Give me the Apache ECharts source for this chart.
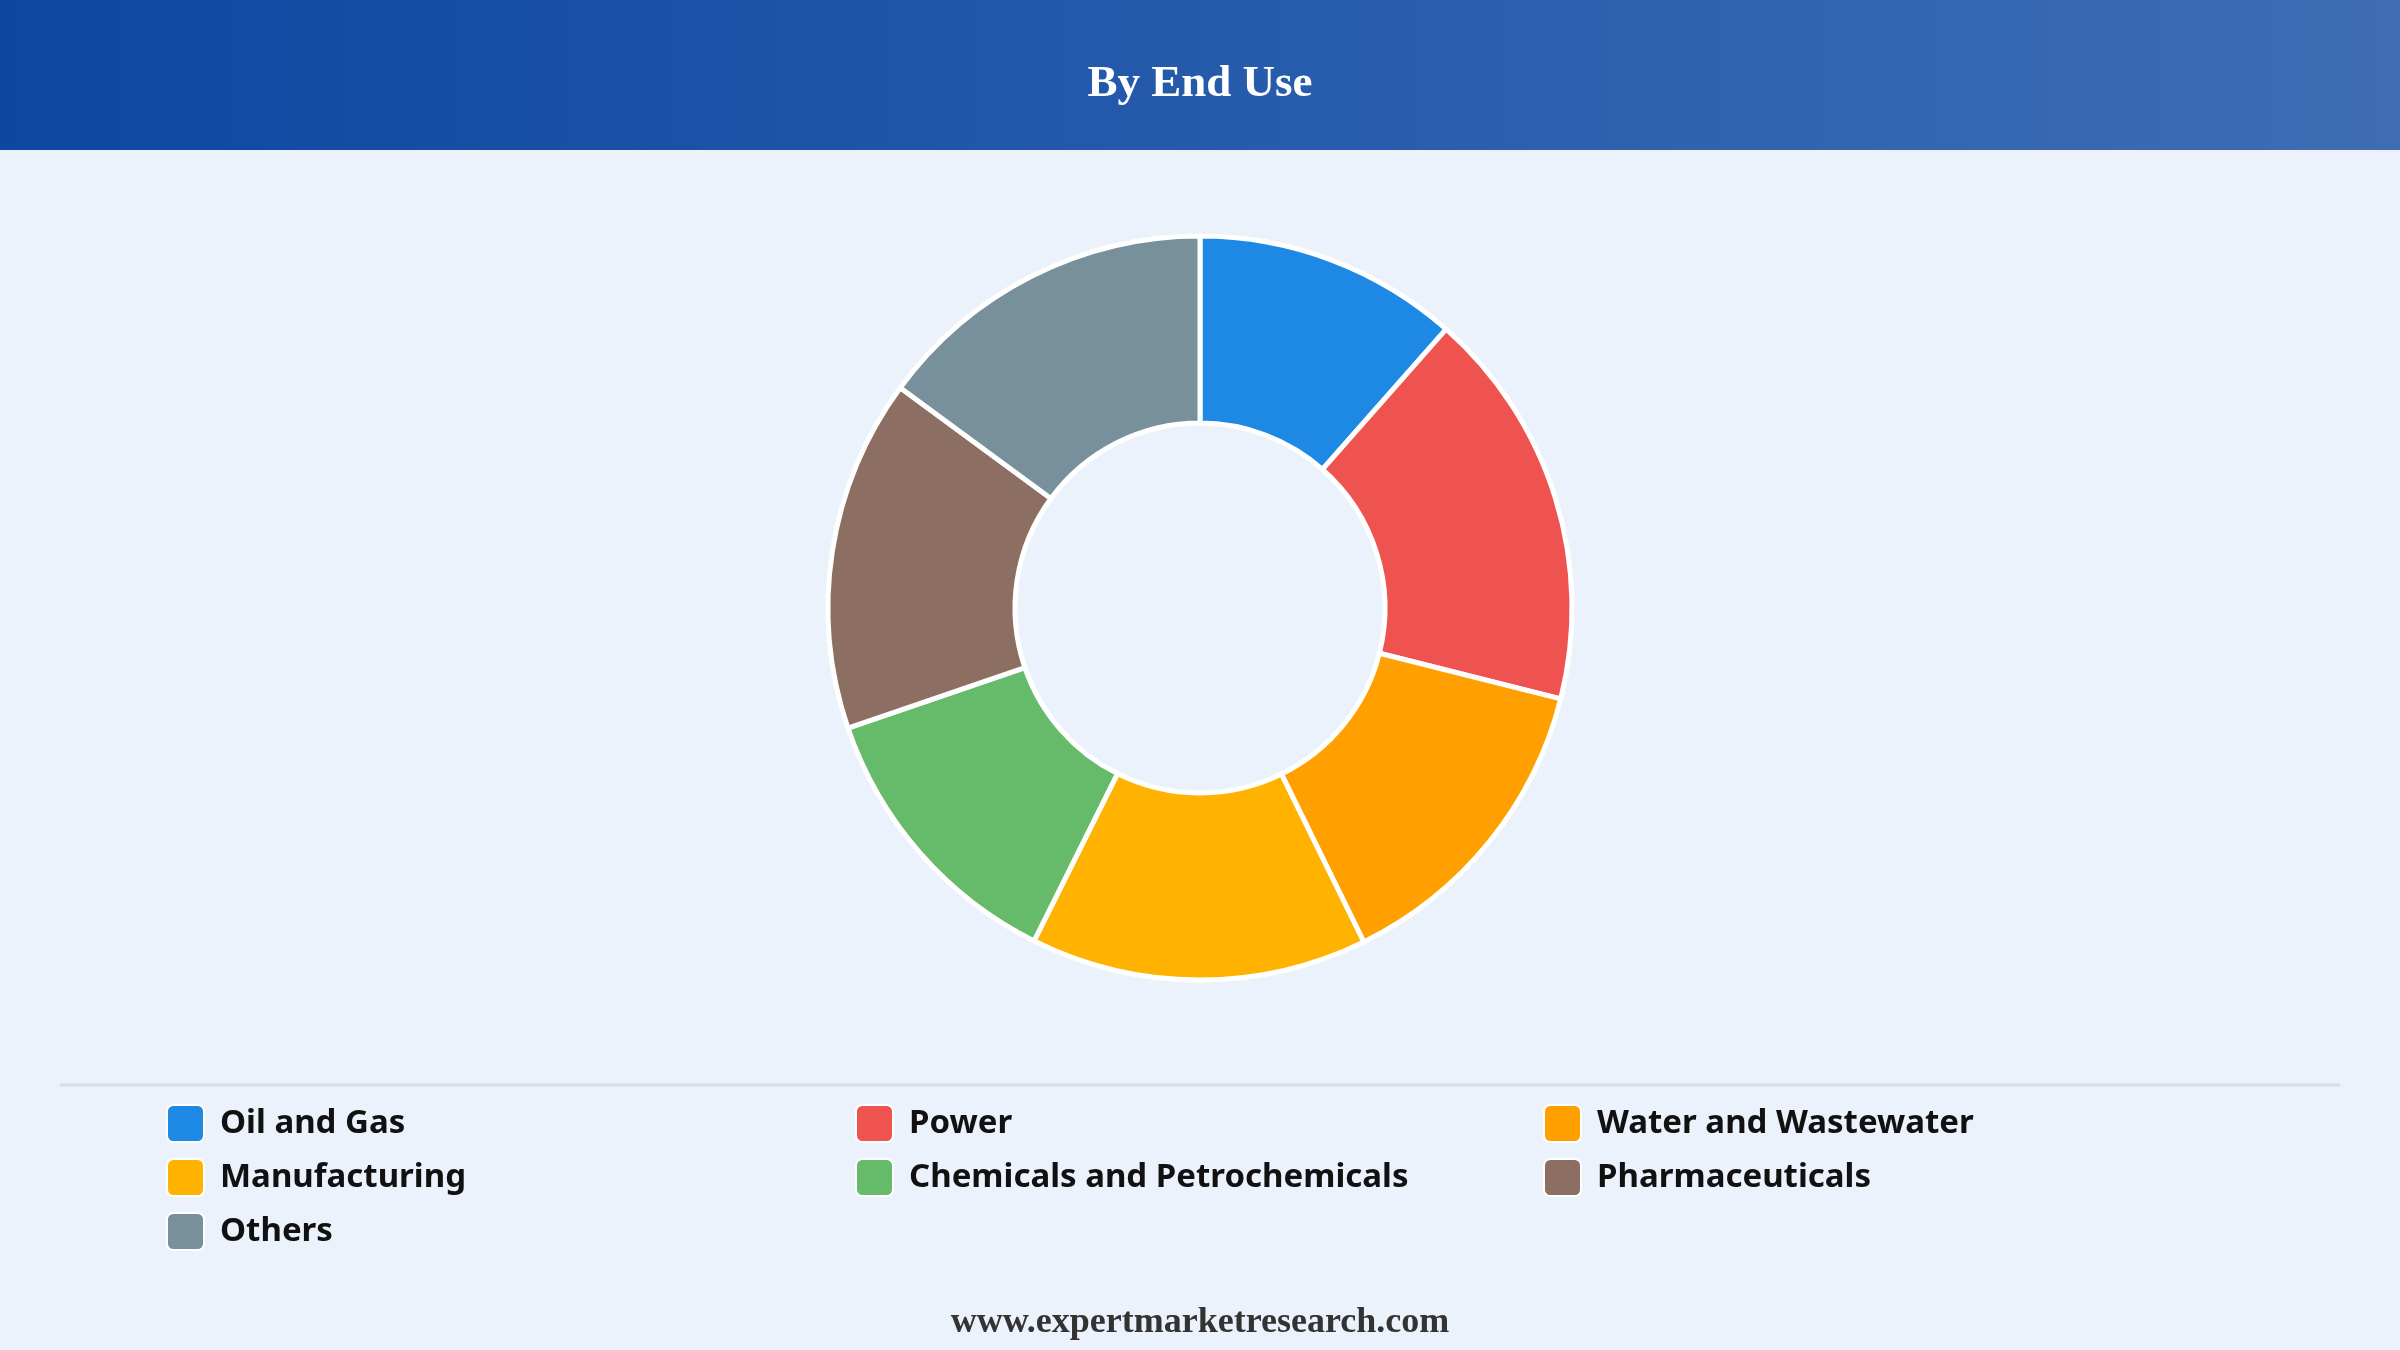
<!DOCTYPE html>
<html>
<head>
<meta charset="utf-8">
<script src="https://cdn.jsdelivr.net/npm/echarts@6/dist/echarts.min.js"></script>
<style>
html,body{margin:0;padding:0;background:#EBF2FB;}
#chart{width:2400px;height:1350px;}
</style>
</head>
<body>
<div id="chart"></div>
<script>
const categories = ["Oil and Gas","Power","Water and Wastewater","Manufacturing","Chemicals and Petrochemicals","Pharmaceuticals","Others"];
const shares = [11.5, 17.4, 13.8, 14.6, 12.4, 15.3, 14.9];
const colors = ["#1E88E5","#EF5350","#FFA000","#FFB300","#66BB6A","#8D6E63","#78909C"];
const titleText = "By End Use";
const footerText = "www.expertmarketresearch.com";
const legendCol1 = ["Oil and Gas","Manufacturing","Others"];
const legendCol2 = ["Power","Chemicals and Petrochemicals"];
const legendCol3 = ["Water and Wastewater","Pharmaceuticals"];

const chart = echarts.init(document.getElementById('chart'), null, {renderer:'canvas'});
const legendBase = {
  orient: 'vertical',
  top: 1104,
  padding: 0,
  itemWidth: 37,
  itemHeight: 37,
  itemGap: 15,
  icon: 'path://M6,0 H30 A6,6 0 0 1 36,6 V30 A6,6 0 0 1 30,36 H6 A6,6 0 0 1 0,30 V6 A6,6 0 0 1 6,0 Z',
  textStyle: {fontFamily: 'Noto Sans', fontWeight: 'bold', fontSize: 33, color: '#111', lineHeight: 36, height: 36, padding: [0,0,0,11]},
  selectedMode: false
};
chart.setOption({
  backgroundColor: '#EBF2FB',
  color: colors,
  graphic: [
    {type:'rect', left:0, top:0, z:-1, shape:{width:2400, height:150},
     style:{fill:{type:'linear', x:0, y:0, x2:1, y2:0, colorStops:[{offset:0,color:'#0D47A1'},{offset:1,color:'#3E6DB5'}]}}},
    {type:'line', shape:{x1:60, y1:1085, x2:2340, y2:1085}, style:{stroke:'#D9DDE2', lineWidth:3}},
    {type:'text', left:'center', top:1305, style:{text: footerText, font:'bold 36px "Liberation Serif", "Times New Roman", serif', fill:'#333333'}}
  ],
  title: {
    text: titleText, left: 'center', top: 57,
    textStyle: {fontFamily: '"Liberation Serif", "Times New Roman", serif', fontWeight: 'bold', fontSize: 45, color: '#ffffff'}
  },
  legend: [
    Object.assign({}, legendBase, {left: 166, data: legendCol1}),
    Object.assign({}, legendBase, {left: 855, data: legendCol2}),
    Object.assign({}, legendBase, {left: 1543, data: legendCol3})
  ],
  series: [{
    type: 'pie',
    center: [1200, 608],
    radius: [185, 372],
    startAngle: 90,
    clockwise: true,
    label: {show: false},
    labelLine: {show: false},
    itemStyle: {borderColor: '#ffffff', borderWidth: 5},
    emphasis: {disabled: true},
    data: categories.map((c, i) => ({name: c, value: shares[i]}))
  }]
});
</script>
</body>
</html>
